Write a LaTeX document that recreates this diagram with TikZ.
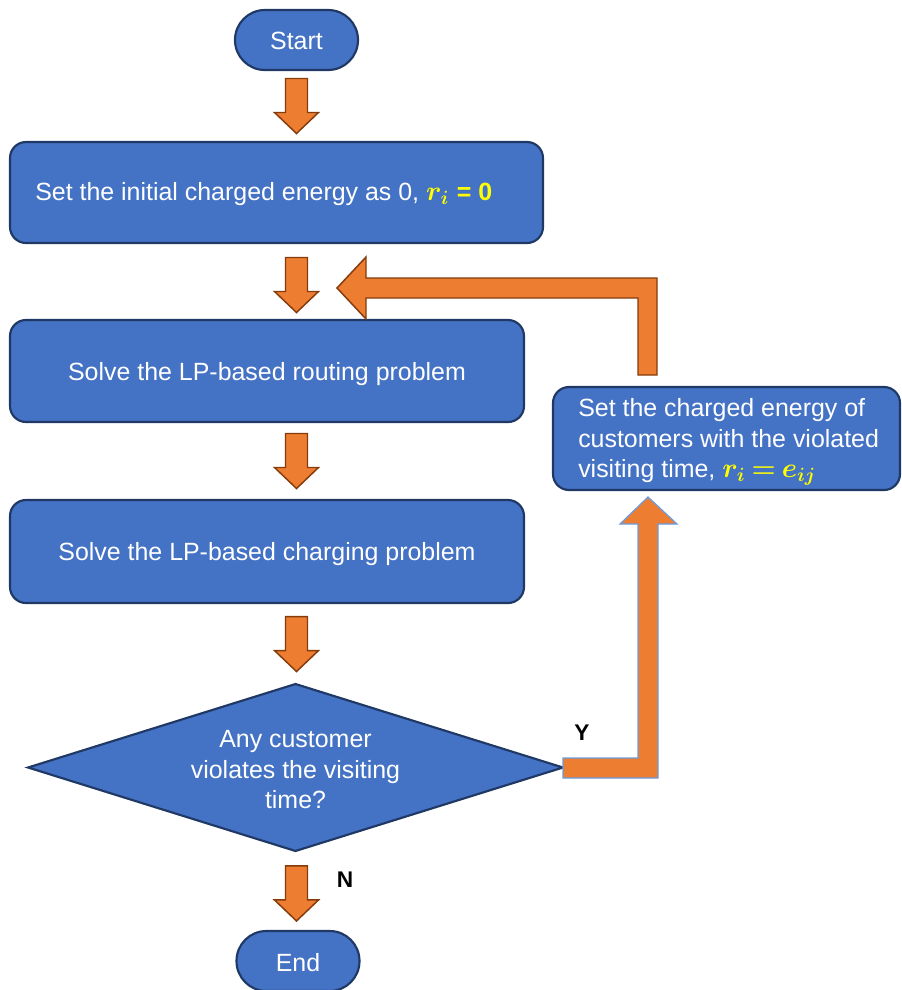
\documentclass[tikz,border=0pt]{standalone}
\usepackage{fontspec}
\usepackage{bm}
\setmainfont{Liberation Sans}
\usetikzlibrary{calc}
\definecolor{boxblue}{HTML}{4472C4}
\definecolor{boxedge}{HTML}{1F3864}
\definecolor{arrfill}{HTML}{ED7D31}
\definecolor{arredge}{HTML}{843C0C}
\definecolor{arredgeb}{HTML}{6A9BE0}
\definecolor{mathyellow}{HTML}{FFFF00}
\newcommand{\ymath}[1]{{\color{mathyellow}\fontsize{21}{22.9}\selectfont#1}}
\begin{document}
\begin{tikzpicture}[x=0.75pt,y=-0.75pt,
  txt/.style={text=white,font=\fontsize{18.7}{22.9}\selectfont,inner sep=0pt},
  box/.style={draw=boxedge,line width=1.6pt,fill=boxblue,rounded corners=12pt,txt,align=center,inner sep=0pt},
  term/.style={box,rounded corners=22.4pt,minimum width=92.25pt,minimum height=45pt},
  barrow/.style={fill=arrfill,draw=arredge,line width=1.1pt,line join=miter},
  barrowb/.style={fill=arrfill,draw=arredgeb,line width=0.9pt,line join=miter},
  lbl/.style={font=\fontsize{17}{20}\selectfont\bfseries,text=black},
  downarrow/.pic={\draw[barrow] (-11,-27.5) -- (11,-27.5) -- (11,6.5) -- (22,6.5)
      -- (0,27.5) -- (-22,6.5) -- (-11,6.5) -- cycle;}]
\useasboundingbox (0,0) rectangle (901,990);

% process boxes
\node[term] (start) at (296.5,40) {};
\node[txt] (startt) at (296.5,41) {Start};
\node[box,minimum width=399.75pt,minimum height=75.75pt] (b1) at (276.5,192.5) {};
\node[txt,anchor=west] (b1t) at (35,194)
  {Set the initial charged energy as 0, \ymath{$\bm{r}_{\bm{i}}$ \textbf{\fontsize{18.7}{22.9}\selectfont= 0}}};
\node[box,minimum width=385.5pt,minimum height=76.5pt] (b2) at (267,371) {};
\node[txt] (b2t) at ($(b2)+(0,3)$) {Solve the LP-based routing problem};
\node[box,minimum width=385.5pt,minimum height=77.25pt] (b3) at (267,551.5) {};
\node[txt] (b3t) at ($(b3)+(0,2.5)$) {Solve the LP-based charging problem};
\node[box,minimum width=260.25pt,minimum height=77.25pt] (b4) at (726.5,438.5) {};
\node[txt,anchor=west,align=left] (b4t) at (578,442)
  {Set the charged energy of\\customers with the violated\\visiting time, \ymath{$\bm{r}_{\bm{i}}\mathbin{\bm{=}}\bm{e}_{\bm{ij}}$}};

% decision diamond
\coordinate (dW) at (28,767.5);
\coordinate (dN) at (295.5,684);
\coordinate (dE) at (563,767.5);
\coordinate (dS) at (295.5,851);
\draw[draw=boxedge,line width=1.6pt,fill=boxblue,line join=miter] (dW) -- (dN) -- (dE) -- (dS) -- cycle;
\node[txt,align=center] (dec) at (295.5,770) {Any customer\\violates the visiting\\time?};

\node[term] (end) at (298,961) {};
\node[txt] (endt) at (298,963) {End};

% block arrows between the steps
\path let \p1=($(start.south)!0.5!(b1.north)$), \p2=(startt) in (\x2,\y1) pic {downarrow};
\path let \p1=($(b1.south)!0.5!(b2.north)$), \p2=(startt) in (\x2,\y1) ++(0,3.5) pic {downarrow};
\path let \p1=($(b2.south)!0.5!(b3.north)$), \p2=(startt) in (\x2,\y1) pic {downarrow};
\path let \p1=($(b3.south)!0.5!(dN)$), \p2=(startt) in (\x2,\y1) pic {downarrow};
\path let \p1=($(dS)!0.5!(end.north)$), \p2=(startt) in (\x2,\y1) ++(0,3) pic {downarrow};

% "Y" branch up to the update box
\draw[barrowb] (dE |- 0,758) -- (638,758) -- (638,524) -- (620,524) -- (648,497)
  -- (677,524) -- (658,524) -- (658,778) -- (dE |- 0,778) -- cycle;
% loop back into the routing step
\draw[barrow] (638,375) -- (657,375) -- (657,278) -- (366,278) -- (366,257)
  -- (337,288) -- (366,319) -- (366,298) -- (638,298) -- cycle;

\node[lbl] (ylab) at (582,733) {Y};
\node[lbl] (nlab) at (345,880) {N};
\end{tikzpicture}
\end{document}
